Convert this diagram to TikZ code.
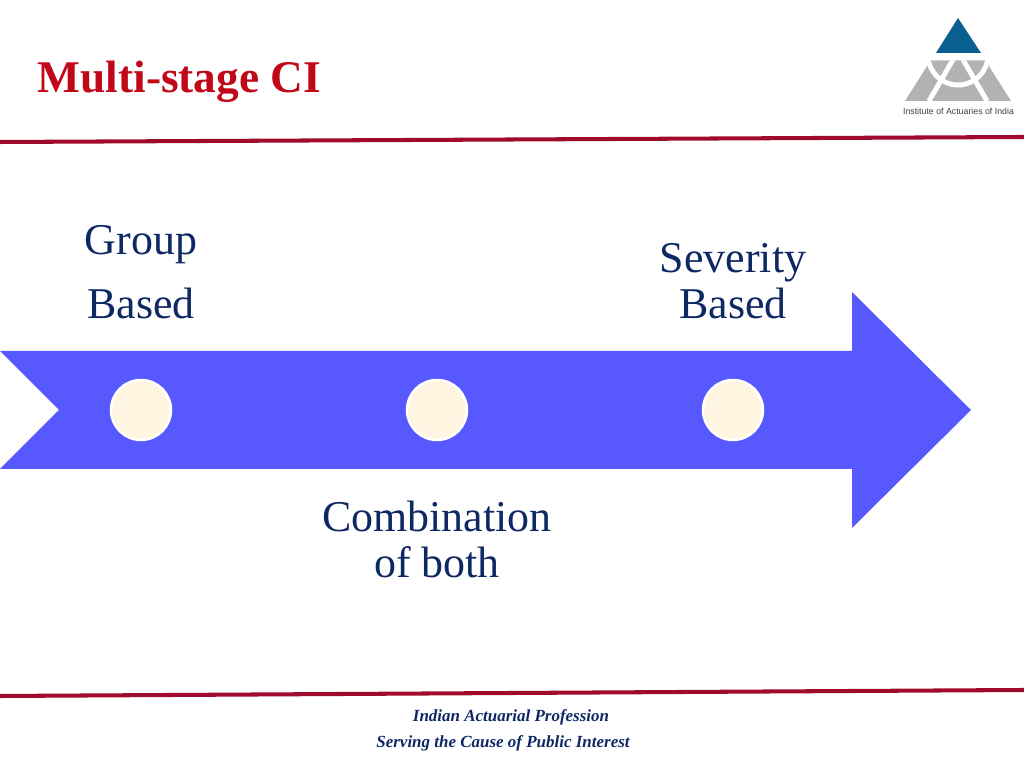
\documentclass[tikz,border=0pt]{standalone}
\usepackage{fontspec}
\setmainfont{Liberation Serif}
\newfontfamily\logofont{Liberation Sans}
\definecolor{titlered}{RGB}{192,8,24}
\definecolor{rulered}{RGB}{160,10,45}
\definecolor{navy}{RGB}{14,40,100}
\definecolor{arrowblue}{RGB}{88,88,255}
\definecolor{dotcream}{RGB}{255,245,225}
\definecolor{logoblue}{RGB}{10,95,145}
\definecolor{logogrey}{RGB}{178,178,178}
\tikzset{
  bigtext/.style={text=navy,font=\fontsize{12.5}{14}\selectfont,inner sep=0pt},
  foottext/.style={text=navy,font=\fontsize{4.83}{6}\selectfont\bfseries\itshape,inner sep=0pt},
  dot/.style={circle,fill=dotcream,draw=white,line width=0.7pt,minimum size=0.60cm,inner sep=0pt},
  rule/.style={rulered,line width=1.15pt}
}
\begin{document}
\begin{tikzpicture}

   \useasboundingbox (0,0) rectangle (10.24,7.68);

   \node (Title) at (0.37,6.75) [anchor=base west,text=titlered,inner sep=0pt,font=\fontsize{12.9}{15}\selectfont\bfseries] {Multi-stage CI};

   \draw [rule] (0,6.26) -- (10.24,6.31);
   \draw [rule] (0,0.72) -- (10.24,0.78);

   % logo
   \fill [logoblue] (9.58,7.50) -- (9.81,7.15) -- (9.36,7.15) -- cycle;
   \begin{scope}
     \clip (9.306,7.075) -- (9.854,7.075) -- (10.11,6.67) -- (9.05,6.67) -- cycle;
     \fill [logogrey] (9.0,6.6) rectangle (10.2,7.2);
     \draw [white,line width=1.4pt] (9.58,7.13) circle (0.30);
     \draw [white,line width=1.4pt] (9.58,7.17) -- (9.29,6.67);
     \draw [white,line width=1.4pt] (9.58,7.17) -- (9.87,6.67);
   \end{scope}
   \node (LogoText) at (9.585,6.57) [text=black!75,inner sep=0pt,font=\logofont\fontsize{2.5}{3}\selectfont] {Institute of Actuaries of India};

   % arrow
   \fill [arrowblue] (0,4.17) -- (8.52,4.17) -- (8.52,4.76) -- (9.71,3.58) -- (8.52,2.40) -- (8.52,2.99) -- (0,2.99) -- (0.59,3.58) -- cycle;

   \node (DotA) at (1.41,3.58) [dot] {};
   \node (DotB) at (4.37,3.58) [dot] {};
   \node (DotC) at (7.33,3.58) [dot] {};

   \node (Group) at (1.41,5.23) [bigtext] {Group};
   \node (BasedA) at (1.41,4.65) [bigtext] {Based};
   \node (Severity) at (7.33,5.05) [bigtext] {Severity};
   \node (BasedB) at (7.33,4.65) [bigtext] {Based};
   \node (Combination) at (4.37,2.52) [bigtext] {Combination};
   \node (Both) at (4.37,2.06) [bigtext] {of both};

   \node (FootA) at (5.11,0.51) [foottext] {Indian Actuarial Profession};
   \node (FootB) at (5.03,0.25) [foottext] {Serving the Cause of Public Interest};

\end{tikzpicture}
\end{document}
